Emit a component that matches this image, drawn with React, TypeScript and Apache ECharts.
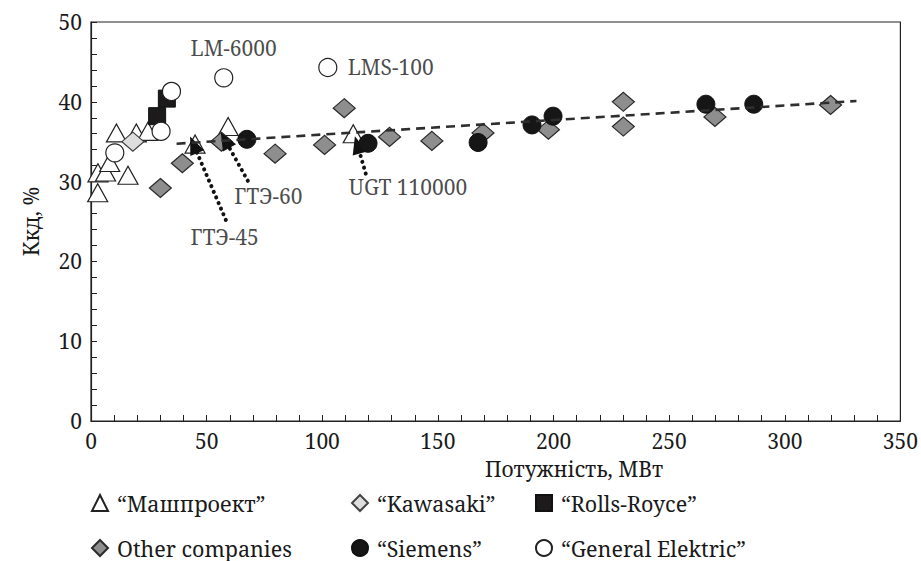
import React, { useEffect, useRef } from "react";
import * as echarts from "echarts";

const FONT = "Noto Serif";

// Series data
const mashX = [2.9, 3.0, 6.3, 8.1, 11.0, 16.0, 19.6, 24.6, 45.0, 59.3, 113.4];
const mashY = [28.6, 31.1, 31.2, 32.4, 36.1, 30.8, 36.1, 36.3, 34.7, 36.9, 36.0];
const kawX = [18.1];
const kawY = [35.0];
const rrX = [28.6, 32.8];
const rrY = [38.2, 40.4];
const otherX = [30.0, 39.5, 56.4, 79.6, 101.0, 109.5, 129.1, 147.4, 169.5, 197.8, 230.2, 230.2, 269.8, 319.8];
const otherY = [29.2, 32.3, 35.0, 33.5, 34.6, 39.2, 35.6, 35.1, 36.1, 36.5, 40.0, 36.9, 38.1, 39.6];
const siemensX = [67.4, 119.8, 167.4, 190.7, 199.8, 265.9, 286.6];
const siemensY = [35.3, 34.8, 34.9, 37.1, 38.2, 39.7, 39.7];
const geX = [10.3, 30.3, 34.8, 57.4, 102.4];
const geY = [33.6, 36.3, 41.3, 43.0, 44.3];
const trendX = [37, 331];
const trendY = [34.75, 40.1];

// Annotations
const noteNames = ["LM-6000", "LMS-100", "ГТЭ-45", "ГТЭ-60", "UGT 110000"];
const noteX = [61.7, 129.6, 57.8, 76.7, 137.1];
const noteY = [46.7, 44.4, 23.1, 28.2, 29.3];
const arrowFromX = [58.3, 67.8, 118.8];
const arrowFromY = [25.2, 30.1, 31.0];
const arrowToX = [44.4, 58.0, 115.2];
const arrowToY = [34.6, 35.2, 34.6];

const legendNames = ["“Машпроект”", "“Kawasaki”", "“Rolls-Royce”", "Other companies", "“Siemens”", "“General Elektric”"];
const xName = "Потужність, МВт";
const yName = "Ккд, %";

const zip = (xs: number[], ys: number[]) => xs.map((x, i) => [x, ys[i]]);

export default function App() {
  const ref = useRef<HTMLDivElement>(null);
  useEffect(() => {
    if (!ref.current) return;
    document.body.style.margin = "0";
    const chart = echarts.init(ref.current, undefined, { renderer: "svg" });
    const axisCommon = {
      type: "value",
      axisLine: { show: true, lineStyle: { color: "#222", width: 1.2 } },
      axisTick: { show: true, inside: true, length: 6, lineStyle: { color: "#222", width: 1 } },
      minorTick: { show: true, splitNumber: 5, length: 6, lineStyle: { color: "#222", width: 1 } },
      splitLine: { show: false },
      minorSplitLine: { show: false },
      axisLabel: { fontFamily: FONT, fontSize: 21, color: "#1a1a1a", margin: 9 },
    };
    const legendPos = [
      [91, 492],
      [351, 492],
      [535, 492],
      [91, 537],
      [351, 537],
      [535, 537],
    ];
    const op = 1;
    const option: any = {
      animation: false,
      textStyle: { fontFamily: FONT },
      grid: { left: 91, right: 13, top: 22, bottom: 140, show: true, borderColor: "#222", borderWidth: 1.2, backgroundColor: "transparent" },
      xAxis: { ...axisCommon, min: 0, max: 350, interval: 50 },
      yAxis: {
        ...axisCommon,
        min: 0,
        max: 50,
        interval: 10,
        name: yName,
        nameLocation: "middle",
        nameGap: 50,
        nameTextStyle: { fontFamily: FONT, fontSize: 21, color: "#1a1a1a" },
      },
      legend: legendNames.map((n, i) => ({
        data: [n],
        left: legendPos[i][0],
        top: legendPos[i][1],
        padding: 0,
        itemWidth: 16,
        itemHeight: 16,
        itemGap: 0,
        selectedMode: false,
        textStyle: { fontFamily: FONT, fontSize: 21.5, color: "#1a1a1a", padding: [0, 0, 0, 4] },
      })),
      graphic: [
        {
          type: "text",
          x: 574,
          y: 469,
          style: { text: xName, fontFamily: FONT, fontSize: 21, fill: "#1a1a1a", align: "center", verticalAlign: "middle" },
        },
      ],
      series: [
        {
          name: legendNames[0],
          type: "scatter",
          symbol: "triangle",
          symbolSize: [20, 18],
          itemStyle: { color: "#fff", borderColor: "#222", borderWidth: 1.2, opacity: op },
          data: zip(mashX, mashY),
          z: 2,
        },
        {
          name: legendNames[1],
          type: "scatter",
          symbol: "diamond",
          symbolSize: [22, 19],
          itemStyle: { color: "#dedede", borderColor: "#444", borderWidth: 1.2, opacity: op },
          data: zip(kawX, kawY),
          z: 3,
        },
        {
          name: legendNames[3],
          type: "scatter",
          symbol: "diamond",
          symbolSize: [22, 19],
          itemStyle: { color: "#8e8e8e", borderColor: "#2a2a2a", borderWidth: 1.2, opacity: op },
          data: zip(otherX, otherY),
          z: 4,
        },
        {
          name: legendNames[2],
          type: "scatter",
          symbol: "rect",
          symbolSize: 17,
          itemStyle: { color: "#1c1a1a", borderColor: "#111", borderWidth: 1, opacity: op },
          data: zip(rrX, rrY),
          z: 5,
        },
        {
          name: legendNames[5],
          type: "scatter",
          symbol: "circle",
          symbolSize: 18,
          itemStyle: { color: "#fff", borderColor: "#222", borderWidth: 1.2, opacity: op },
          data: zip(geX, geY),
          z: 6,
        },
        {
          name: legendNames[4],
          type: "scatter",
          symbol: "circle",
          symbolSize: 18,
          itemStyle: { color: "#161616", borderColor: "#111", borderWidth: 1, opacity: op },
          data: zip(siemensX, siemensY),
          z: 7,
        },
        {
          name: "trend",
          type: "line",
          symbol: "none",
          lineStyle: { color: "#2e2e2e", width: 2.6, type: [9, 6] },
          data: zip(trendX, trendY),
          z: 8,
          silent: true,
        },
        {
          name: "notes",
          type: "scatter",
          symbolSize: 0,
          silent: true,
          z: 9,
          data: noteNames.map((n, i) => ({ value: [noteX[i], noteY[i]], name: n })),
          label: {
            show: true,
            position: "inside",
            formatter: (p: any) => p.name,
            fontFamily: FONT,
            fontSize: 21,
            color: "#1a1a1a",
          },
          markLine: {
            silent: true,
            symbol: ["none", "triangle"],
            symbolSize: [15, 18],
            label: { show: false },
            lineStyle: { color: "#111", width: 4, type: [0.1, 6], cap: "round", opacity: 1 },
            itemStyle: { color: "#111" },
            emphasis: { disabled: true },
            data: arrowFromX.map((x, i) => [
              { coord: [x, arrowFromY[i]] },
              { coord: [arrowToX[i], arrowToY[i]] },
            ]),
          },
        },
      ],
    };
    chart.setOption(option);
    return () => chart.dispose();
  }, []);
  return <div ref={ref} style={{ width: 921, height: 561 }} />;
}
